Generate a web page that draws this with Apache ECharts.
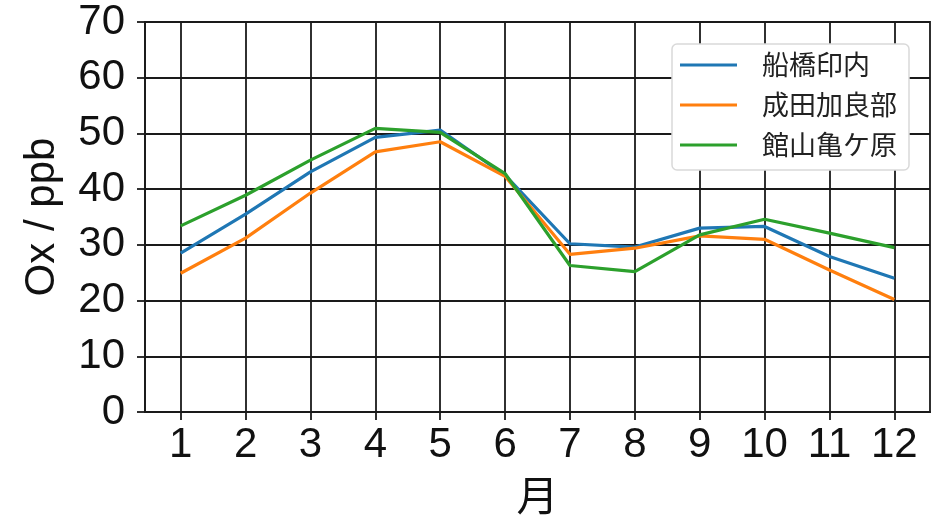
<!DOCTYPE html>
<html>
<head>
<meta charset="utf-8">
<script src="https://cdn.jsdelivr.net/npm/echarts@6/dist/echarts.min.js"></script>
<style>
  html, body { margin: 0; padding: 0; background: #fff; }
  #chart { width: 947px; height: 520px; }
</style>
</head>
<body>
<div id="chart"></div>
<script>
// Monthly mean oxidant (Ox) concentration at three stations, ppb
const months = [1, 2, 3, 4, 5, 6, 7, 8, 9, 10, 11, 12];
const funabashiInnai = [28.5, 35.5, 43.1, 49.3, 50.6, 42.5, 30.2, 29.6, 33.0, 33.3, 27.9, 24.0];
const naritaKarabe = [24.9, 31.2, 39.3, 46.7, 48.5, 42.3, 28.3, 29.4, 31.6, 31.0, 25.5, 20.2];
const tateyamaKamegahara = [33.4, 38.9, 45.2, 50.9, 50.2, 42.8, 26.3, 25.2, 31.8, 34.6, 32.1, 29.5];
const seriesNames = ['船橋印内', '成田加良部', '館山亀ケ原'];
const yTicks = [0, 10, 20, 30, 40, 50, 60, 70];

const FONT = '"Liberation Sans", "Noto Sans CJK JP", sans-serif';
const CJK = '"Noto Sans CJK JP", sans-serif';
const INK = '#1a1a1a';
const LW = 1.8;

const toPairs = vals => vals.map((v, i) => [months[i], v]);

const chart = echarts.init(document.getElementById('chart'), null, { renderer: 'canvas' });
chart.setOption({
  animation: false,
  backgroundColor: '#fff',
  color: ['#1f77b4', '#ff7f0e', '#2ca02c'],
  grid: {
    left: 145, right: 17, top: 22, bottom: 108,
    show: true, borderColor: INK, borderWidth: LW, backgroundColor: 'transparent',
    outerBoundsMode: 'none'
  },
  xAxis: {
    type: 'value',
    min: 0.45, max: 12.55,
    splitNumber: 12,
    name: '月',
    nameLocation: 'middle',
    nameGap: 62,
    nameTextStyle: { fontFamily: CJK, fontSize: 42, color: '#111' },
    axisLine: { show: true, lineStyle: { color: INK, width: LW } },
    axisTick: { show: true, length: 8, customValues: months, lineStyle: { color: INK, width: LW } },
    axisLabel: { customValues: months, margin: 12, fontFamily: FONT, fontSize: 42, color: '#111' },
    splitLine: { show: true, customValues: months, lineStyle: { color: INK, width: LW } }
  },
  yAxis: {
    type: 'value',
    min: yTicks[0], max: yTicks[yTicks.length - 1], interval: 10,
    name: 'Ox / ppb',
    nameLocation: 'middle',
    nameRotate: 90,
    nameGap: 82,
    nameTextStyle: { fontFamily: FONT, fontSize: 42, color: '#111' },
    axisLine: { show: true, lineStyle: { color: INK, width: LW } },
    axisTick: { show: true, length: 8, lineStyle: { color: INK, width: LW } },
    axisLabel: { margin: 20, fontFamily: FONT, fontSize: 42, color: '#111' },
    splitLine: { show: true, lineStyle: { color: INK, width: LW } }
  },
  legend: {
    orient: 'vertical',
    left: 672, top: 44,
    padding: [6, 12, 10, 8],
    itemGap: 10,
    icon: 'rect',
    itemWidth: 57,
    itemHeight: 3,
    backgroundColor: '#fff',
    borderColor: '#d9d9d9',
    borderWidth: 1.5,
    borderRadius: 5,
    textStyle: { fontFamily: CJK, fontSize: 27, lineHeight: 30, color: '#222', padding: [0, 0, 0, 20] },
    data: seriesNames
  },
  series: [
    { name: seriesNames[0], type: 'line', data: toPairs(funabashiInnai) },
    { name: seriesNames[1], type: 'line', data: toPairs(naritaKarabe) },
    { name: seriesNames[2], type: 'line', data: toPairs(tateyamaKamegahara) }
  ].map(s => Object.assign(s, { showSymbol: false, symbol: 'none', lineStyle: { width: 3.2 }, z: 3 }))
});
</script>
</body>
</html>
